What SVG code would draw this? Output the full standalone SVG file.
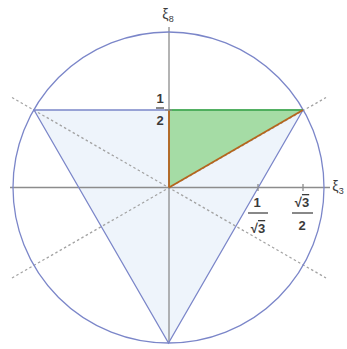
<svg xmlns="http://www.w3.org/2000/svg" width="347" height="349" viewBox="0 0 347 349">
<style>
.axis{stroke:#8c8c8c;stroke-width:1.3;fill:none}
.blue{stroke:#7b86c9;stroke-width:1.3;fill:none}
.dash{stroke:#a3a3a3;stroke-width:1.3;stroke-dasharray:2.5 2.5;fill:none}
.lbl{font-family:"Liberation Sans",Arial,sans-serif;font-size:13px;font-weight:bold;fill:#3a3a3a;text-anchor:middle}
.xi{font-family:"Liberation Sans",Arial,sans-serif;font-size:14px;fill:#3a3a3a;text-anchor:middle}
.frac{stroke:#3a3a3a;stroke-width:1.2}
.ov{text-decoration:overline}
</style>
<rect width="347" height="349" fill="#fff"/>
<g id="region">
<polygon points="34,110 303,110 168.5,343" fill="#eef4fb" stroke="none"/>
</g>
<g id="green-triangle">
<polygon points="169,110 303,110 169,187.5" fill="#a5dca5" stroke="none"/>
</g>
<g id="connectors">
<line class="dash" x1="12" y1="97.5" x2="326" y2="278"/>
<line class="dash" x1="12" y1="278" x2="326" y2="97.5"/>
<line class="axis" x1="10" y1="187.5" x2="330" y2="187.5"/>
<line class="axis" x1="169" y1="27" x2="169" y2="343"/>
<circle class="blue" cx="168.5" cy="187.5" r="155.5"/>
<polygon class="blue" points="34,110 303,110 168.5,343"/>
<line x1="169" y1="110" x2="303" y2="110" stroke="#3cb43c" stroke-width="1.6"/>
<line x1="169" y1="110" x2="169" y2="187.5" stroke="#b5651d" stroke-width="1.8"/>
<line x1="169" y1="187.5" x2="303" y2="110" stroke="#b5651d" stroke-width="1.8"/>
<line class="axis" x1="258" y1="184" x2="258" y2="191"/>
<line class="axis" x1="303" y1="184" x2="303" y2="191"/>
<line class="axis" x1="165" y1="110" x2="172" y2="110"/>
</g>
<g id="labels">
<text class="xi" x="168" y="19">ξ<tspan font-size="9" dy="3">8</tspan></text>
<text class="xi" x="338" y="191">ξ<tspan font-size="9" dy="3">3</tspan></text>
<text class="lbl" x="160" y="103">1</text>
<line class="frac" x1="156" y1="108" x2="164" y2="108"/>
<text class="lbl" x="160" y="125">2</text>
<text class="lbl" x="257" y="207">1</text>
<line class="frac" x1="248" y1="213" x2="268" y2="213"/>
<text class="lbl" x="258" y="233">√<tspan class="ov">3</tspan></text>
<text class="lbl" x="302" y="207">√<tspan class="ov">3</tspan></text>
<line class="frac" x1="292" y1="213" x2="313" y2="213"/>
<text class="lbl" x="302" y="230">2</text>
</g>
</svg>
